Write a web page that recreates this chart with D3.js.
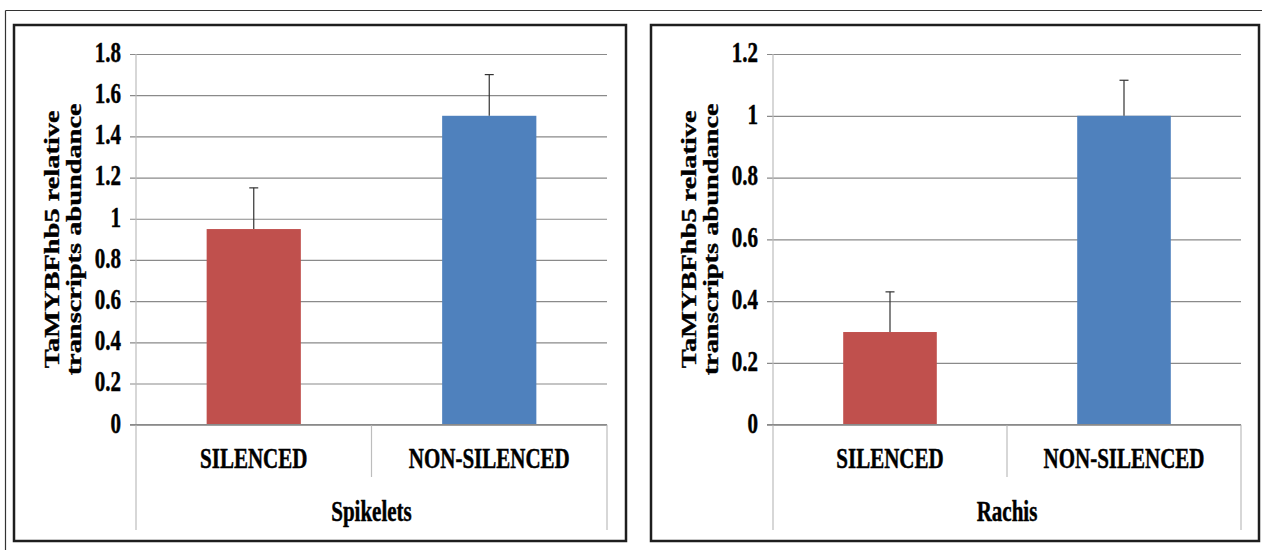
<!DOCTYPE html>
<html>
<head>
<meta charset="utf-8">
<script src="https://cdn.jsdelivr.net/npm/d3@7"></script>
<style>
  html, body { margin: 0; padding: 0; background: #fff; }
  svg { display: block; }
  text { font-family: "Liberation Serif", "Times New Roman", serif; font-weight: bold; fill: #000; stroke: #000; stroke-width: 0.35px; }
</style>
</head>
<body>
<svg id="chart" width="1262" height="550"></svg>
<script>
// ---- Data ----
const categories = ["SILENCED", "NON-SILENCED"];
const spikeletsValues = [0.95, 1.5];
const spikeletsErrors = [0.2, 0.2];
const rachisValues = [0.3, 1.0];
const rachisErrors = [0.13, 0.115];
const spikeletsTicks = [0, 0.2, 0.4, 0.6, 0.8, 1, 1.2, 1.4, 1.6, 1.8];
const rachisTicks = [0, 0.2, 0.4, 0.6, 0.8, 1, 1.2];
const groupLabels = ["Spikelets", "Rachis"];
const yTitleLines = ["TaMYBFhb5 relative", "transcripts abundance"];
const barColors = ["#C0504D", "#4F81BD"];

const svg = d3.select("#chart");

// outer frame
svg.append("line").attr("x1", 5.5).attr("x2", 1262).attr("y1", 10.5).attr("y2", 10.5)
  .attr("stroke", "#333").attr("stroke-width", 1.2);
svg.append("line").attr("x1", 5.5).attr("x2", 5.5).attr("y1", 10.5).attr("y2", 550)
  .attr("stroke", "#333").attr("stroke-width", 1.2);

const panels = [
  { box: [14, 25, 626, 541], plot: [136, 54, 607, 424.7], values: spikeletsValues, errors: spikeletsErrors,
    ticks: spikeletsTicks, group: groupLabels[0] },
  { box: [651, 25, 1259, 541], plot: [773, 54, 1241, 424.7], values: rachisValues, errors: rachisErrors,
    ticks: rachisTicks, group: groupLabels[1] }
];

const SY = 1.4; // vertical stretch of the text in the reference

panels.forEach(p => {
  const [bx0, by0, bx1, by1] = p.box;
  const [x0, y0, x1, y1] = p.plot;
  const g = svg.append("g");

  g.append("rect").attr("x", bx0).attr("y", by0).attr("width", bx1 - bx0).attr("height", by1 - by0)
    .attr("fill", "#fff").attr("stroke", "#1e1e1e").attr("stroke-width", 2.5);

  const x = d3.scaleBand().domain(categories).range([x0, x1]).paddingInner(0).paddingOuter(0);
  const y = d3.scaleLinear().domain([0, d3.max(p.ticks)]).range([y1, y0]);

  // gridlines with outside tick marks
  const grid = d3.axisLeft(y).tickValues(p.ticks).tickSize(-(x1 - x0 + 6)).tickFormat("");
  const gg = g.append("g").attr("transform", `translate(${x0 - 6},0)`).call(grid);
  gg.select(".domain").remove();
  gg.selectAll(".tick line").attr("stroke", "#8a8a8a").attr("stroke-width", 1.2)
    .attr("x1", 0).attr("x2", x1 - x0 + 6);

  // tick labels
  const lab = d3.axisLeft(y).tickValues(p.ticks).tickSize(0).tickPadding(15).tickFormat(d3.format("~g"));
  const lg = g.append("g").attr("transform", `translate(${x0},0)`).call(lab);
  lg.select(".domain").remove();
  lg.selectAll(".tick text")
    .attr("font-family", '"Liberation Serif", "Times New Roman", serif')
    .attr("font-weight", "bold").attr("font-size", 21).attr("fill", "#000")
    .attr("x", -15).attr("y", 0)
    .attr("transform", `scale(1,${SY})`)
    .attr("dy", (0.35 / SY) + "em");

  // y axis vertical line & category separators
  g.append("line").attr("x1", x0).attr("x2", x0).attr("y1", y0).attr("y2", 530)
    .attr("stroke", "#bdbdbd").attr("stroke-width", 1.2);
  g.append("line").attr("x1", x1).attr("x2", x1).attr("y1", y1).attr("y2", 530)
    .attr("stroke", "#bdbdbd").attr("stroke-width", 1.2);
  g.append("line").attr("x1", x0 + x.bandwidth()).attr("x2", x0 + x.bandwidth()).attr("y1", y1).attr("y2", 477)
    .attr("stroke", "#bdbdbd").attr("stroke-width", 1.2);

  // bars
  const bw = x.bandwidth() * 0.4;
  g.selectAll("rect.bar").data(p.values).enter().append("rect").attr("class", "bar")
    .attr("x", (d, i) => x(categories[i]) + x.bandwidth() / 2 - bw / 2)
    .attr("y", d => y(d)).attr("width", bw).attr("height", d => y(0) - y(d))
    .attr("fill", (d, i) => barColors[i]);

  // zero axis line
  g.append("line").attr("x1", x0 - 6).attr("x2", x1).attr("y1", y(0)).attr("y2", y(0))
    .attr("stroke", "#8a8a8a").attr("stroke-width", 1.2);

  // error bars (upper only)
  p.values.forEach((v, i) => {
    const cx = x(categories[i]) + x.bandwidth() / 2;
    g.append("line").attr("x1", cx).attr("x2", cx).attr("y1", y(v)).attr("y2", y(v + p.errors[i]))
      .attr("stroke", "#333").attr("stroke-width", 1.2);
    g.append("line").attr("x1", cx - 4.5).attr("x2", cx + 4.5)
      .attr("y1", y(v + p.errors[i])).attr("y2", y(v + p.errors[i]))
      .attr("stroke", "#333").attr("stroke-width", 1.2);
  });

  // category labels
  categories.forEach(c => {
    g.append("text").attr("transform", `translate(${x(c) + x.bandwidth() / 2},458) scale(1,${SY})`)
      .attr("text-anchor", "middle").attr("dy", "0.33em").attr("font-size", 21).text(c);
  });

  // group label
  g.append("text").attr("transform", `translate(${(x0 + x1) / 2},511) scale(1,${SY})`)
    .attr("text-anchor", "middle").attr("dy", "0.33em").attr("font-size", 21).text(p.group);

  // y title
  const tg = g.append("g").attr("transform", `translate(0,${(y0 + y1) / 2}) scale(1,1.42) rotate(-90)`);
  tg.append("text").attr("x", 0).attr("y", x0 - 77).attr("text-anchor", "middle").attr("font-size", 20).text(yTitleLines[0]);
  tg.append("text").attr("x", 0).attr("y", x0 - 55).attr("text-anchor", "middle").attr("font-size", 20).text(yTitleLines[1]);
});
</script>
</body>
</html>
